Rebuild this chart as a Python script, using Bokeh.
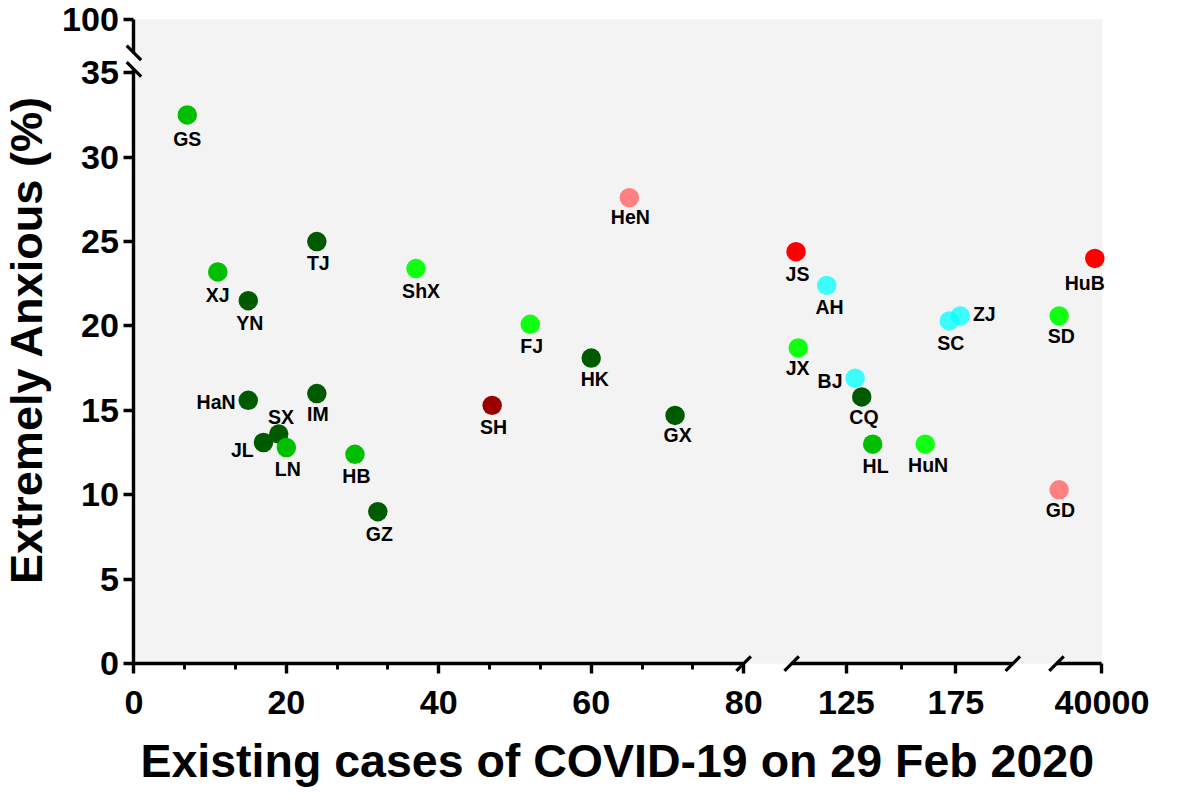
import math
from bokeh.plotting import figure
from bokeh.models import Range1d, LinearAxis, FixedTicker, BoxAnnotation, Label, ColumnDataSource
from bokeh.core.properties import value, field
from bokeh.embed import file_html
from bokeh.resources import INLINE

# ---------------- data ----------------
provinces = ["GS", "XJ", "YN", "TJ", "ShX", "HaN", "JL", "SX", "LN", "IM", "HB", "GZ",
             "SH", "FJ", "HK", "HeN", "GX",
             "JS", "JX", "AH", "BJ", "CQ", "HL", "HuN", "SC", "ZJ",
             "SD", "GD", "HuB"]
existing_cases = [7, 11, 15, 24, 37, 15, 17, 19, 20, 24, 29, 32,
                  47, 52, 60, 65, 71,
                  102, 103, 116, 129, 132, 137, 161, 172, 177,
                  2300, 2300, 33700]
extremely_anxious = [32.5, 23.2, 21.5, 25.0, 23.4, 15.6, 13.1, 13.6, 12.8, 16.0, 12.4, 9.0,
                     15.3, 20.1, 18.1, 27.6, 14.7,
                     24.4, 18.7, 22.4, 16.9, 15.8, 13.0, 13.0, 20.3, 20.6,
                     20.6, 10.3, 24.0]
group = ["B", "B", "A", "A", "C", "A", "A", "A", "B", "A", "B", "A",
         "G", "C", "A", "E", "A",
         "F", "C", "D", "D", "A", "B", "C", "D", "D",
         "C", "E", "F"]

x_ticks_1 = [0, 20, 40, 60, 80]
x_ticks_2 = [125, 175]
x_minor_2 = [150]
x_bounds_2 = (100, 201)
x_ticks_3 = [40000]
x_bounds_3 = (0, 40000)
y_ticks = [0, 5, 10, 15, 20, 25, 30, 35]
y_bounds = (0, 35.2)
y_ticks_top = [100]
y_bounds_top = (98, 100)
x_title = "Existing cases of COVID-19 on 29 Feb 2020"
y_title = "Extremely Anxious (%)"

# ---------------- style ----------------
palette = {"A": ("#005a00", 1.0), "B": ("#00bf00", 1.0), "C": ("#11ff11", 1.0),
           "D": ("#00ffff", 0.75), "E": ("#ff8080", 1.0), "F": ("#ff0000", 1.0),
           "G": ("#990000", 1.0)}
label_default = (1.5, 22.5, "center")
label_style = {"GS": (0, 24.5, "center"), "XJ": (0, 24, "center"),
               "HaN": (-13, 2, "right"), "SX": (2.3, -17.7, "center"),
               "JL": (-10, 7.7, "right"), "BJ": (-13, 2.7, "right"),
               "ZJ": (13, -1.7, "left"), "HuB": (-10.3, 25.7, "center"),
               "ShX": (5.3, 23.3, "center"), "HK": (3.7, 21, "center"),
               "GX": (2.7, 20, "center"), "AH": (3, 22, "center"),
               "HL": (3, 22.3, "center"), "HuN": (3, 21.3, "center"),
               "IM": (1, 21, "center"), "HeN": (1, 20.3, "center"),
               "JX": (-0.7, 21, "center"), "CQ": (2.3, 21, "center"),
               "SD": (2.3, 21, "center"), "GD": (1.3, 21, "center")}

FONT = "Liberation Sans"
W, H = 1163, 789
S = 0.974


def cx(r):
    return (r - 3.0) * S + 7.0


def cy(r):
    return (r - 3.0) * S + 7.0


def x_range(a, pa, b, pb):
    k = (cx(pb) - cx(pa)) / (b - a)
    s0 = a - cx(pa) / k
    return Range1d(start=s0, end=s0 + W / k)


def y_range(a, pa, b, pb):
    k = (cy(pa) - cy(pb)) / (b - a)
    s0 = a - (H - cy(pa)) / k
    return Range1d(start=s0, end=s0 + H / k)


def x_val(rng, r):
    return rng.start + cx(r) / W * (rng.end - rng.start)


def y_val(rng, r):
    return rng.start + (H - cy(r)) / H * (rng.end - rng.start)


y_px_per_unit = (676.7 - 330.0) / 20.0
xr1 = x_range(0, 132.8, 80, 758.8)
xr2 = x_range(125, 864.3, 175, 976.7)
xr3 = x_range(0, 1080.0, 40000, 1126.7)
yr1 = y_range(0, 676.7, 20, 330.0)
yr_top = y_range(80, 15.0 + 20 * y_px_per_unit, 100, 15.0)

p = figure(width=W, height=H, x_range=xr1, y_range=yr1, output_backend="svg",
           toolbar_location=None, x_axis_location=None, y_axis_location=None,
           min_border=0, title=None)
p.min_border_left = p.min_border_right = p.min_border_top = p.min_border_bottom = 0
p.extra_x_ranges = {"seg2": xr2, "seg3": xr3}
p.extra_y_ranges = {"top": yr_top}
p.outline_line_color = None
p.background_fill_color = "white"
p.border_fill_color = "white"
p.xgrid.grid_line_color = None
p.ygrid.grid_line_color = None
p.xgrid.visible = False
p.ygrid.visible = False

# grey plotting area
p.add_layout(BoxAnnotation(left=0, right=x_val(xr1, 1127.0), bottom=0, top=y_val(yr1, 15.0),
                           fill_color="#f3f3f3", fill_alpha=1.0, line_color=None,
                           level="underlay"))


def style_axis(ax, standoff):
    ax.axis_line_width = 3.5 * S
    ax.axis_line_color = "black"
    ax.major_tick_line_width = 3.5 * S
    ax.major_tick_line_color = "black"
    ax.major_tick_out = 10
    ax.major_tick_in = 0
    ax.minor_tick_line_width = 3 * S
    ax.minor_tick_line_color = "black"
    ax.minor_tick_out = 6
    ax.minor_tick_in = 0
    ax.major_label_text_font = FONT
    ax.major_label_text_font_style = "bold"
    ax.major_label_text_font_size = f"{35 * S:.1f}px"
    ax.major_label_text_color = "black"
    ax.major_label_standoff = int(round(standoff * S))


minor_1 = []
for a, b in zip(x_ticks_1[:-1], x_ticks_1[1:]):
    minor_1 += [a + (b - a) * i / 3.0 for i in (1, 2)]

ax1 = LinearAxis(ticker=FixedTicker(ticks=x_ticks_1, minor_ticks=minor_1),
                 fixed_location=0, bounds=(x_ticks_1[0], x_ticks_1[-1]))
style_axis(ax1, 17)
p.add_layout(ax1, "below")

ax2 = LinearAxis(x_range_name="seg2", ticker=FixedTicker(ticks=x_ticks_2, minor_ticks=x_minor_2),
                 fixed_location=0, bounds=x_bounds_2)
style_axis(ax2, 17)
p.add_layout(ax2, "below")

ax3 = LinearAxis(x_range_name="seg3", ticker=FixedTicker(ticks=x_ticks_3),
                 fixed_location=0, bounds=x_bounds_3)
style_axis(ax3, 17)
p.add_layout(ax3, "below")

ay1 = LinearAxis(ticker=FixedTicker(ticks=y_ticks), fixed_location=0, bounds=y_bounds)
style_axis(ay1, 5)
p.add_layout(ay1, "left")

ay2 = LinearAxis(y_range_name="top", ticker=FixedTicker(ticks=y_ticks_top), fixed_location=0,
                 bounds=y_bounds_top)
style_axis(ay2, 5)
p.add_layout(ay2, "left")

# axis break marks
brk = dict(marker="dash", size=21 * S, line_color="black", line_width=3.3 * S)
p.scatter(x=[x_ticks_1[-1]], y=[0], angle=math.pi / 4, **brk)
p.scatter(x=list(x_bounds_2), y=[0, 0], angle=math.pi / 4, x_range_name="seg2", **brk)
p.scatter(x=[x_bounds_3[0]], y=[0], angle=math.pi / 4, x_range_name="seg3", **brk)
p.scatter(x=[0], y=[y_bounds[1]], angle=-math.pi / 4, **brk)
p.scatter(x=[0], y=[y_bounds_top[0]], angle=-math.pi / 4, y_range_name="top", **brk)

# points and labels by axis segment
segments = [("default", lambda c: c <= x_ticks_1[-1]),
            ("seg2", lambda c: x_bounds_2[0] <= c <= x_bounds_2[1]),
            ("seg3", lambda c: c > x_bounds_2[1])]
for rname, test in segments:
    d = dict(x=[], y=[], name=[], color=[], alpha=[], dx=[], dy=[], align=[])
    for n, c, v, g in zip(provinces, existing_cases, extremely_anxious, group):
        if not test(c):
            continue
        dx, dy, al = label_style.get(n, label_default)
        d["x"].append(c)
        d["y"].append(v)
        d["name"].append(n)
        d["color"].append(palette[g][0])
        d["alpha"].append(palette[g][1])
        d["dx"].append(dx * S)
        d["dy"].append(dy * S)
        d["align"].append(al)
    src = ColumnDataSource(d)
    p.scatter(x="x", y="y", source=src, x_range_name=rname, marker="circle", size=20 * S,
              fill_color=field("color"), fill_alpha=field("alpha"), line_color=None)
    p.text(x="x", y="y", text="name", source=src, x_range_name=rname,
           x_offset=field("dx"), y_offset=field("dy"), text_align=field("align"),
           text_baseline="middle", text_font=value(FONT), text_font_style="bold",
           text_font_size=value(f"{20 * S:.1f}px"), text_color="black")

# axis titles
p.add_layout(Label(x=x_val(xr1, 629.0), y=y_val(yr1, 776.7), text=x_title,
                   text_font=FONT, text_font_style="bold", text_font_size=f"{47.7 * S:.1f}px",
                   text_align="center", text_baseline="middle", text_color="black"))
p.add_layout(Label(x=x_val(xr1, 23.0), y=y_val(yr1, 344.0), text=y_title, angle=math.pi / 2,
                   text_font=FONT, text_font_style="bold", text_font_size=f"{46.3 * S:.1f}px",
                   text_align="center", text_baseline="middle", text_color="black"))

open("out.html", "w").write(file_html(p, INLINE))
